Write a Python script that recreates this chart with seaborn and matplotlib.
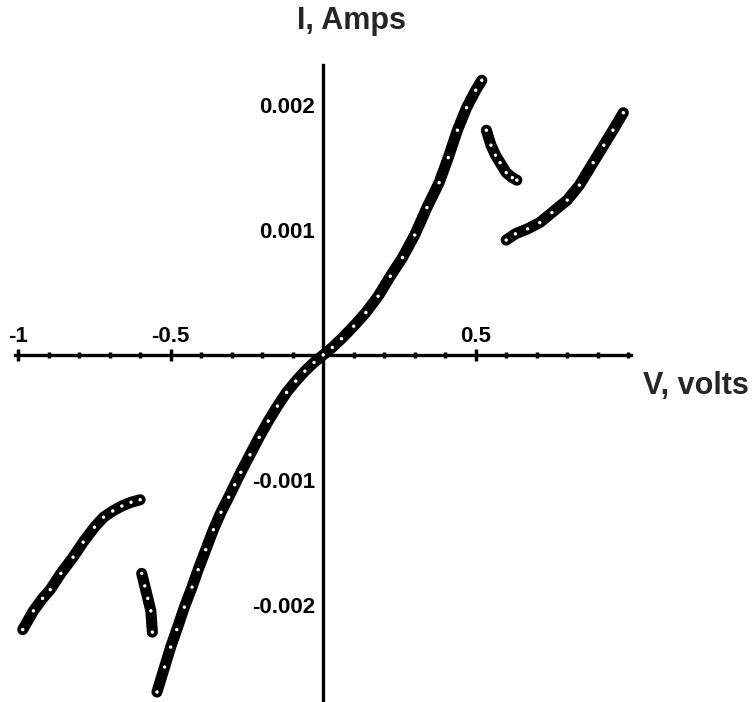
import matplotlib
matplotlib.use("Agg")
import matplotlib.pyplot as plt
import seaborn as sns
import pandas as pd
from matplotlib.ticker import MultipleLocator

sns.set_theme(style="white")
plt.rcParams['font.family'] = ['Liberation Sans Narrow', 'Liberation Sans', 'DejaVu Sans']

# Main branch (V, I)
main_v = [-0.545, -0.52, -0.50, -0.48, -0.455, -0.43, -0.41, -0.385, -0.36, -0.335, -0.31,
          -0.29, -0.27, -0.24, -0.21, -0.18, -0.15, -0.12, -0.09, -0.06, -0.03, 0.0, 0.03,
          0.06, 0.10, 0.14, 0.18, 0.22, 0.26, 0.30, 0.34, 0.38, 0.41, 0.44, 0.47, 0.50, 0.52]
main_i = [-0.00270, -0.00250, -0.00234, -0.00220, -0.00202, -0.00186, -0.00172, -0.00156,
          -0.00140, -0.00126, -0.00114, -0.00104, -0.00094, -0.00080, -0.00066, -0.00053,
          -0.00041, -0.00030, -0.00021, -0.00013, -0.00006, 0.0, 0.00006, 0.00013, 0.00023,
          0.00034, 0.00047, 0.00063, 0.00078, 0.00096, 0.00118, 0.00138, 0.00158, 0.00180,
          0.00198, 0.00212, 0.00220]

left_v = [-0.985, -0.95, -0.92, -0.895, -0.86, -0.82, -0.787, -0.75, -0.72, -0.69, -0.66, -0.63, -0.60]
left_i = [-0.00220, -0.00205, -0.00195, -0.00188, -0.00175, -0.00162, -0.00150, -0.00138,
          -0.00130, -0.00125, -0.00121, -0.00118, -0.00116]

lsmall_v = [-0.595, -0.585, -0.575, -0.565, -0.56]
lsmall_i = [-0.00175, -0.00185, -0.00195, -0.00205, -0.00222]

rsmall_v = [0.535, 0.55, 0.565, 0.58, 0.60, 0.62, 0.635]
rsmall_i = [0.00180, 0.00168, 0.00160, 0.00154, 0.00146, 0.00142, 0.00140]

right_v = [0.60, 0.63, 0.67, 0.71, 0.75, 0.80, 0.84, 0.885, 0.92, 0.95, 0.984]
right_i = [0.00092, 0.00097, 0.00101, 0.00106, 0.00114, 0.00124, 0.00136, 0.00154,
           0.00168, 0.00180, 0.00194]

x_tick_vals = [-1, -0.5, 0.5]
x_tick_labels = ["-1", "-0.5", "0.5"]
y_tick_vals = [-0.002, -0.001, 0.001, 0.002]
y_tick_labels = ["-0.002", "-0.001", "0.001", "0.002"]

frames = []
for name, v, i in [("main", main_v, main_i), ("left", left_v, left_i),
                   ("lsmall", lsmall_v, lsmall_i), ("rsmall", rsmall_v, rsmall_i),
                   ("right", right_v, right_i)]:
    frames.append(pd.DataFrame({"V": v, "I": i, "branch": name}))
df = pd.concat(frames, ignore_index=True)

fig = plt.figure(figsize=(7.56, 7.02), dpi=100)
ax = fig.add_axes([0.02, 0.0, 0.815, 0.907])

sns.lineplot(data=df, x="V", y="I", units="branch", estimator=None, sort=False,
             color="black", linewidth=8, ax=ax, legend=False)
sns.scatterplot(data=df, x="V", y="I", color="white", s=6, edgecolor="none", ax=ax,
                legend=False, zorder=5)

ax.set_xlim(-1.01, 1.01)
ax.set_ylim(-0.00278, 0.00232)

for s in ["bottom", "right"]:
    ax.spines[s].set_visible(False)
ax.spines["top"].set_position(("data", 0))
ax.spines["left"].set_position(("data", 0))
for s in ["top", "left"]:
    ax.spines[s].set_color("black")
    ax.spines[s].set_linewidth(2.4)

ax.xaxis.tick_top()
ax.set_xticks(x_tick_vals)
ax.set_xticklabels(x_tick_labels)
ax.xaxis.set_minor_locator(MultipleLocator(0.1))
ax.set_yticks(y_tick_vals)
ax.set_yticklabels(y_tick_labels)
ax.yaxis.set_minor_locator(MultipleLocator(0.0002))

ax.tick_params(axis="both", which="both", direction="inout", color="black", width=2.5)
ax.tick_params(axis="both", which="major", length=8, pad=2)
ax.tick_params(axis="both", which="minor", length=5)
for lab in ax.get_xticklabels() + ax.get_yticklabels():
    lab.set_fontweight("bold")
    lab.set_fontsize(16)
    lab.set_color("black")

ax.set_xlabel("")
ax.set_ylabel("")
ax.grid(False)

fig.text(0.465, 0.97, "I, Amps", ha="center", va="center", fontsize=22, fontweight="bold",
         family=["Liberation Sans", "DejaVu Sans"])
fig.text(0.92, 0.45, "V, volts", ha="center", va="center", fontsize=22, fontweight="bold",
         family=["Liberation Sans", "DejaVu Sans"])

fig.savefig("out.png", dpi=100)
